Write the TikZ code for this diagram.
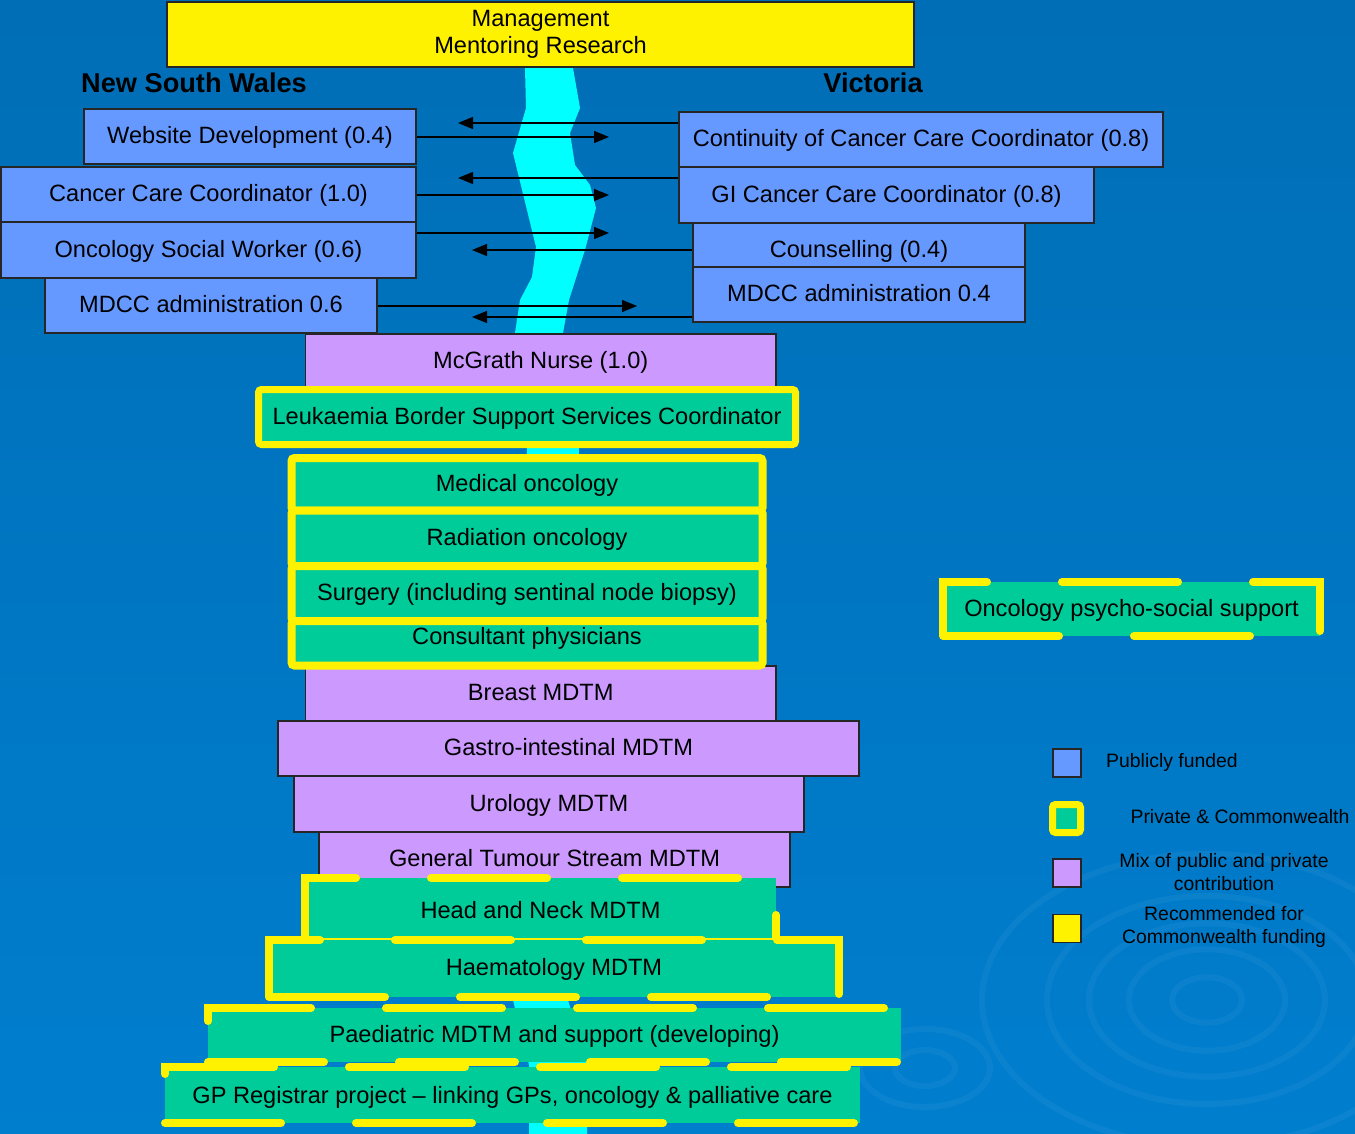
\documentclass[tikz,border=0pt]{standalone}
\usepackage{fontspec}
\setmainfont{Liberation Sans}
\usetikzlibrary{arrows.meta}

\definecolor{bgtop}{RGB}{0,102,170}
\definecolor{bgbot}{RGB}{0,134,218}
\definecolor{pub}{RGB}{102,153,255}
\definecolor{mix}{RGB}{204,153,255}
\definecolor{priv}{RGB}{0,204,153}
\definecolor{river}{RGB}{0,255,255}
\pgfdeclareverticalshading{bgshade}{100bp}{color(0bp)=(bgbot); color(45bp)=(bgbot!55!bgtop); color(100bp)=(bgtop)}

\newcommand\cellfont{\fontsize{11.8}{13.5}\selectfont}
\newcommand\keyfont{\fontsize{9.7}{11.5}\selectfont}
\newcommand\headfont{\fontsize{13.6}{16}\selectfont\bfseries}

\begin{document}
\begin{tikzpicture}[x=0.5pt, y=-0.5pt,
  px/.style 2 args={minimum width=#1*0.5pt, minimum height=#2*0.5pt},
  cell/.style={draw=black!85, line width=0.6pt, inner sep=0pt, font=\cellfont, align=center,
    text height=9.8pt, text depth=2.5pt},
  pubcell/.style={cell, fill=pub},
  mixcell/.style={cell, fill=mix},
  privcell/.style={cell, fill=priv, draw=yellow, line width=3.5pt, rounded corners=1.5pt},
  dashcell/.style={cell, fill=priv, draw=yellow, line width=4pt, line cap=round, dash pattern=on 58pt off 37.5pt},
  keytext/.style={font=\keyfont, align=center},
  arr/.style={line width=0.65pt, -{Triangle[length=7.5pt, width=6pt]}},
  ripple/.style={white, opacity=0.045, line width=3pt}]

  % Background and ripples
  \shade[shading=bgshade] (0,0) rectangle (1355,1134);
  \useasboundingbox (0,0) rectangle (1355,1134);
  \foreach \r in {35,78,118,160,225}
    \draw[ripple] (1207,1000) ellipse [x radius=\r, y radius=0.65*\r];
  \foreach \r in {30,65}
    \draw[ripple] (925,1068) ellipse [x radius=\r, y radius=0.6*\r];

  % The border (river)
  \fill[river] (525,68) -- (526,108) -- (513,153) -- (536,247) -- (532,277) -- (520,300)
    -- (515,333) -- (527,447) -- (513,1000) -- (529,1065) -- (529,1134)
    -- (587,1134) -- (587,1065) -- (568,1000) -- (579,447) -- (563,333) -- (569,300)
    -- (585,250) -- (596,208) -- (590,185) -- (575,165) -- (570,133) -- (580,108)
    -- (573,68) -- cycle;

  % Title and headings
  \node[cell, fill=yellow, px={747}{65}, text height=, text depth=] (mgmt) at (540.5,34.5) {Management\\Mentoring Research};
  \node[font=\headfont] (nsw) at (194,83) {New South Wales};
  \node[font=\headfont] (vic) at (873,83) {Victoria};

  % New South Wales
  \node[pubcell, px={332}{55}] (web) at (250,136.5) {Website Development (0.4)};
  \node[pubcell, px={415}{55}] (ccc) at (208.5,194.5) {Cancer Care Coordinator (1.0)};
  \node[pubcell, px={415}{56}] (osw) at (208.5,250) {Oncology Social Worker (0.6)};
  \node[pubcell, px={332}{55}] (mdccn) at (211,305.5) {MDCC administration 0.6};

  % Victoria
  \node[pubcell, px={484}{55}] (cccv) at (921,139.5) {Continuity of Cancer Care Coordinator (0.8)};
  \node[pubcell, px={415}{56}] (gi) at (886.5,195) {GI Cancer Care Coordinator (0.8)};
  \node[pubcell, px={332}{44}, text height=15.5pt] (couns) at (859,245) {Counselling (0.4)};
  \node[pubcell, px={332}{55}] (mdccv) at (859,294.5) {MDCC administration 0.4};

  % Arrows across the border
  \coordinate (a1) at (458,123);
  \coordinate (a2) at (609,137);
  \coordinate (a3) at (458,178);
  \coordinate (a4) at (609,195);
  \coordinate (a5) at (609,233);
  \coordinate (a6) at (472,250);
  \coordinate (a7) at (637,306);
  \coordinate (a8) at (472,317);
  \draw[arr] (a1 -| cccv.west) -- (a1);
  \draw[arr] (web.east |- a2) -- (a2);
  \draw[arr] (a3 -| gi.west) -- (a3);
  \draw[arr] (ccc.east |- a4) -- (a4);
  \draw[arr] (osw.east |- a5) -- (a5);
  \draw[arr] (a6 -| couns.west) -- (a6);
  \draw[arr] (mdccn.east |- a7) -- (a7);
  \draw[arr] (a8 -| mdccv.west) -- (a8);

  % Shared services
  \node[mixcell, px={470.5}{55}] (mcgrath) at (540.75,361.5) {McGrath Nurse (1.0)};
  \node[mixcell, px={470.5}{55}] (breast) at (540.75,693.5) {Breast MDTM};
  \node[mixcell, px={581}{55}] (gastro) at (568.5,748.5) {Gastro-intestinal MDTM};
  \node[mixcell, px={510}{56}] (uro) at (549,804) {Urology MDTM};
  \node[mixcell, px={471}{55}] (gentum) at (554.5,859.5) {General Tumour Stream MDTM};

  \node[privcell, px={537}{55}] (leuk) at (527,417) {Leukaemia Border Support Services Coordinator};
  \node[privcell, line width=4pt, px={471}{52.5}] (medonc) at (527,484.25) {Medical oncology};
  \node[privcell, line width=4pt, px={471}{55.5}] (radonc) at (527,538.25) {Radiation oncology};
  \node[privcell, line width=4pt, px={471}{55}] (surg) at (527,593.5) {Surgery (including sentinal node biopsy)};
  \node[privcell, line width=4pt, px={471}{44.5}, text depth=9pt] (consult) at (527,643.25) {Consultant physicians};

  \node[dashcell, px={471}{64}, text height=11.3pt] (headneck) at (540.5,910) {Head and Neck MDTM};
  \node[dashcell, px={570}{57}] (haem) at (554,968.5) {Haematology MDTM};
  \node[dashcell, px={693}{54}] (paed) at (554.5,1035) {Paediatric MDTM and support (developing)};
  \node[dashcell, px={695}{56}, text height=11pt] (gp) at (512.5,1095) {GP Registrar project -- linking GPs, oncology \& palliative care};

  \node[dashcell, px={377}{54}] (psycho) at (1131.5,609) {Oncology psycho-social support};

  % Key
  \node[pubcell, px={28}{28}] (kpub) at (1067,763) {};
  \node[privcell, px={28}{28}] (kpriv) at (1066.5,818.5) {};
  \node[mixcell, px={28}{28}] (kmix) at (1067,873) {};
  \node[cell, fill=yellow, px={28}{28}] (krec) at (1067,928.5) {};
  \node[keytext] (tpub) at (1172,762) {Publicly funded};
  \node[keytext] (tpriv) at (1240,817) {Private \& Commonwealth};
  \node[keytext] (tmix) at (1224,872) {Mix of public and private\\contribution};
  \node[keytext] (trec) at (1224,927) {Recommended for\\Commonwealth funding};
\end{tikzpicture}
\end{document}
